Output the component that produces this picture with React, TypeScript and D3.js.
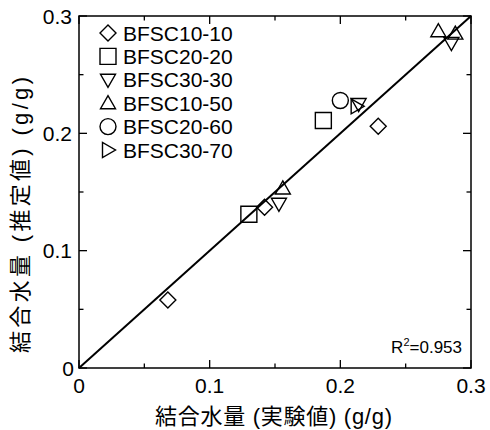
import React from "react";
import * as d3 from "d3";

// Bound water: measured (x) vs. estimated (y), g/g
const seriesNames = ["BFSC10-10", "BFSC20-20", "BFSC30-30", "BFSC10-50", "BFSC20-60", "BFSC30-70"];
const seriesShapes = ["diamond", "square", "triDown", "triUp", "circle", "triRight"];

const bfsc10_10 = [[0.068, 0.058], [0.142, 0.137], [0.229, 0.206]];
const bfsc20_20 = [[0.130, 0.131], [0.187, 0.211]];
const bfsc30_30 = [[0.153, 0.140], [0.214, 0.225], [0.285, 0.277]];
const bfsc10_50 = [[0.156, 0.153], [0.275, 0.287], [0.288, 0.285]];
const bfsc20_60 = [[0.200, 0.228]];
const bfsc30_70 = [[0.2125, 0.223]];

const seriesData = [bfsc10_10, bfsc20_20, bfsc30_30, bfsc10_50, bfsc20_60, bfsc30_70];

const majorTicks = [0, 0.1, 0.2, 0.3];
const minorTicks = [0.05, 0.15, 0.25];
const rSquared = "0.953";

const xTitle = "結合水量 (実験値) (g/g)";
const yTitle = "結合水量 (推定値) (g/g)";

const W = 490;
const H = 430;
const M = { left: 79, top: 16, right: 471, bottom: 368 };

const FONT = "'Liberation Sans', Arial, 'Noto Sans CJK JP', sans-serif";

function markerPath(shape: string): string {
  switch (shape) {
    case "diamond":
      return "M0,-8L8,0L0,8L-8,0Z";
    case "square":
      return "M-8,-8H8V8H-8Z";
    case "triDown":
      return "M-7.5,-5.5H7.5L0,7.5Z";
    case "triUp":
      return "M-7.5,5.5H7.5L0,-7.5Z";
    case "triRight":
      return "M-5.5,-7.5V7.5L7.5,0Z";
    case "circle":
    default:
      return "M8,0A8,8 0 1,1 -8,0A8,8 0 1,1 8,0Z";
  }
}

function Marker({ shape, x, y }: { shape: string; x: number; y: number }) {
  return (
    <path
      d={markerPath(shape)}
      transform={`translate(${x},${y})`}
      fill="none"
      stroke="#000"
      strokeWidth={1.4}
    />
  );
}

export default function App() {
  const x = d3.scaleLinear().domain([0, 0.3]).range([M.left, M.right]);
  const y = d3.scaleLinear().domain([0, 0.3]).range([M.bottom, M.top]);
  const fmt = (v: number) => (v === 0 ? "0" : d3.format(".1f")(v));

  const majorLen = 8;
  const minorLen = 4.5;

  const ticks: React.ReactNode[] = [];
  const addTicks = (vals: number[], len: number, key: string) => {
    vals.forEach((v, i) => {
      const px = x(v);
      const py = y(v);
      ticks.push(
        <line key={`${key}b${i}`} x1={px} x2={px} y1={M.bottom} y2={M.bottom - len} />,
        <line key={`${key}t${i}`} x1={px} x2={px} y1={M.top} y2={M.top + len} />,
        <line key={`${key}l${i}`} x1={M.left} x2={M.left + len} y1={py} y2={py} />,
        <line key={`${key}r${i}`} x1={M.right} x2={M.right - len} y1={py} y2={py} />
      );
    });
  };
  addTicks(majorTicks, majorLen, "M");
  addTicks(minorTicks, minorLen, "m");

  const diag = d3.line<number>()
    .x((v) => x(v))
    .y((v) => y(v));

  const legendX = 108;
  const legendY0 = 33;
  const legendStep = 23.4;

  return (
    <svg
      width={W}
      height={H}
      viewBox={`0 0 ${W} ${H}`}
      style={{ position: "absolute", left: 0, top: 0, background: "#fff" }}
      fontFamily={FONT}
    >
      <rect x={0} y={0} width={W} height={H} fill="#fff" />

      {/* 1:1 line */}
      <path d={diag([0, 0.3]) || ""} stroke="#000" strokeWidth={2} fill="none" />

      {/* frame and ticks */}
      <rect
        x={M.left}
        y={M.top}
        width={M.right - M.left}
        height={M.bottom - M.top}
        fill="none"
        stroke="#000"
        strokeWidth={1.5}
      />
      <g stroke="#000" strokeWidth={1.3}>{ticks}</g>

      {/* tick labels */}
      <g fontSize={21} fill="#000">
        {majorTicks.map((v) => (
          <text key={`xl${v}`} x={x(v)} y={393} textAnchor="middle">
            {fmt(v)}
          </text>
        ))}
        {majorTicks.map((v) => (
          <text key={`yl${v}`} x={v === 0 ? 74 : 72} y={y(v)} dy="0.36em" textAnchor="end">
            {fmt(v)}
          </text>
        ))}
      </g>

      {/* axis titles */}
      <text
        x={155}
        y={424}
        fontSize={22}
        fill="#000"
        textLength={237}
        lengthAdjust="spacing"
      >
        {xTitle}
      </text>
      <text
        transform={`translate(28,214) rotate(-90)`}
        x={-139}
        fontSize={22}
        fill="#000"
        textLength={276}
        lengthAdjust="spacing"
      >
        {yTitle}
      </text>

      {/* data */}
      {seriesData.map((pts, si) =>
        pts.map((p, pi) => (
          <Marker key={`p${si}-${pi}`} shape={seriesShapes[si]} x={x(p[0])} y={y(p[1])} />
        ))
      )}

      {/* legend */}
      {seriesNames.map((name, i) => {
        const ly = legendY0 + i * legendStep;
        return (
          <g key={name}>
            <Marker shape={seriesShapes[i]} x={legendX} y={ly} />
            <text x={123} y={ly} dy="0.36em" fontSize={21} fill="#000">
              {name}
            </text>
          </g>
        );
      })}

      {/* coefficient of determination */}
      <text x={462} y={353} fontSize={17} textAnchor="end" fill="#000">
        R<tspan fontSize={11} dy={-7}>2</tspan>
        <tspan dy={7}>={rSquared}</tspan>
      </text>
    </svg>
  );
}
